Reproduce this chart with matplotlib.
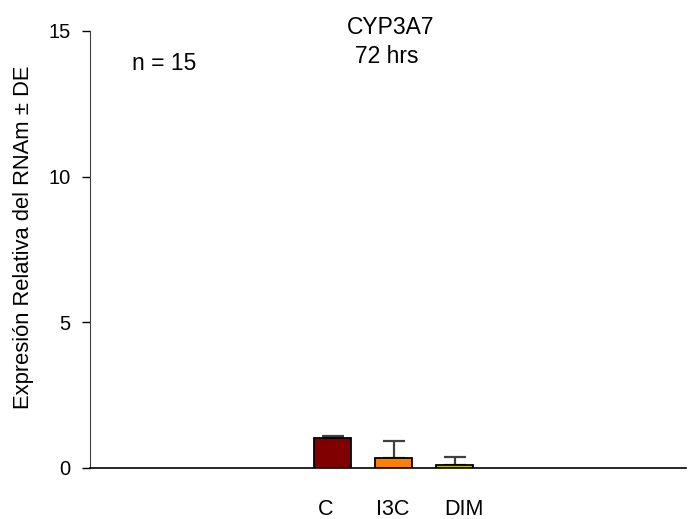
import matplotlib
matplotlib.use('Agg')
import matplotlib.pyplot as plt

plt.rcParams['font.family'] = ['Liberation Sans', 'DejaVu Sans']

groups = ['C', 'I3C', 'DIM']
means = [1.02, 0.34, 0.11]
errs = [0.09, 0.58, 0.26]
colors = ['#800000', '#FF8000', '#C8C800']
# labels in the original sit a little off the bar centres
label_shift = [-0.11, -0.02, 0.15]

fig = plt.figure(figsize=(6.88, 5.19), dpi=100)
ax = fig.add_axes([0.1308, 0.0983, 0.8662, 0.842])

x = list(range(len(groups)))
ax.bar(x, means, width=0.6, color=colors, edgecolor='black', linewidth=1.3, zorder=2)
ax.errorbar(x, means, yerr=[[0] * len(errs), errs], fmt='none', ecolor='#404040',
            elinewidth=1.6, capsize=8, capthick=1.6, zorder=1)

ax.set_xlim(-3.98, 5.79)
ax.set_ylim(0, 15)
ax.set_yticks([0, 5, 10, 15])
ax.set_xticks([i + s for i, s in zip(x, label_shift)])
ax.set_xticklabels(groups)
ax.tick_params(axis='x', length=0, pad=22, labelsize=15.5)
ax.tick_params(axis='y', direction='out', length=6, width=1, pad=8, labelsize=14.5)
ax.spines['top'].set_visible(False)
ax.spines['right'].set_visible(False)
ax.spines['left'].set_color('#404040')
ax.spines['bottom'].set_linewidth(1.2)
ax.set_ylabel('Expresión Relativa del RNAm ± DE', fontsize=15.8)
ax.yaxis.set_label_coords(-0.094, 0.527)

ax.text(0.95, 14.9, 'CYP3A7', ha='center', va='baseline', fontsize=16.5)
ax.text(0.885, 13.9, '72 hrs', ha='center', va='baseline', fontsize=16.5)
ax.text(-2.76, 13.66, 'n = 15', ha='center', va='baseline', fontsize=16.5)

fig.savefig('out.png', dpi=100)
